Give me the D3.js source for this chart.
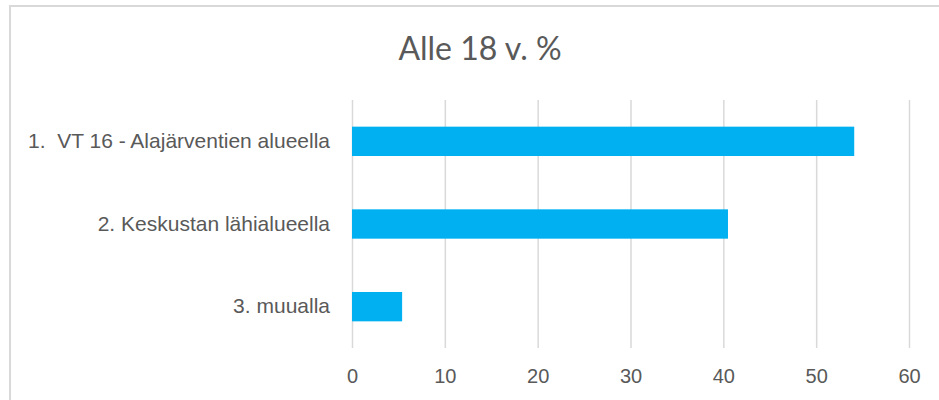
<!DOCTYPE html>
<html>
<head>
<meta charset="utf-8">
<script src="https://cdn.jsdelivr.net/npm/d3@7"></script>
<style>
  html, body { margin: 0; padding: 0; background: #fff; }
  svg { display: block; font-family: Lato, "Open Sans", sans-serif; }
  text { white-space: pre; }
</style>
</head>
<body>
<svg id="chart" width="939" height="400"></svg>
<script>
const title = "Alle 18 v. %";
const categories = ["1.  VT 16 - Alajärventien alueella", "2. Keskustan lähialueella", "3. muualla"];
const values = [54.1, 40.5, 5.4];
const xTicks = [0, 10, 20, 30, 40, 50, 60];

const W = 939, H = 400;
const margin = {top: 100, right: 30, bottom: 52, left: 352};
const svg = d3.select("#chart");

// chart border
svg.append("rect")
  .attr("x", 10).attr("y", 6)
  .attr("width", W + 20).attr("height", H + 20)
  .attr("fill", "none").attr("stroke", "#d9d9d9").attr("stroke-width", 2);

svg.append("text")
  .attr("x", 480).attr("y", 60)
  .attr("text-anchor", "middle")
  .attr("fill", "#595959")
  .attr("font-size", 32)
  .text(title);

const x = d3.scaleLinear().domain([0, 60]).range([margin.left, W - margin.right]);
const y = d3.scaleBand().domain(categories)
  .range([margin.top, H - margin.bottom])
  .paddingInner(0.645).paddingOuter(0.3225);

const plotH = (H - margin.bottom) - margin.top;

const gx = svg.append("g")
  .attr("transform", `translate(0,${H - margin.bottom})`)
  .call(d3.axisBottom(x).tickValues(xTicks).tickSize(-plotH).tickPadding(21));
gx.select(".domain").remove();
gx.selectAll(".tick line").attr("stroke", "#d9d9d9").attr("stroke-width", 1.5);
gx.selectAll(".tick text").attr("fill", "#595959").attr("font-size", 20);

svg.append("g").selectAll("rect")
  .data(values)
  .join("rect")
  .attr("x", x(0))
  .attr("y", (d, i) => y(categories[i]))
  .attr("width", d => x(d) - x(0))
  .attr("height", y.bandwidth())
  .attr("fill", "#00b0f0");

const gy = svg.append("g")
  .attr("transform", `translate(${margin.left},0)`)
  .call(d3.axisLeft(y).tickSize(0).tickPadding(22));
gy.select(".domain").remove();
gy.selectAll(".tick text").attr("fill", "#595959").attr("font-size", 21);
</script>
</body>
</html>
